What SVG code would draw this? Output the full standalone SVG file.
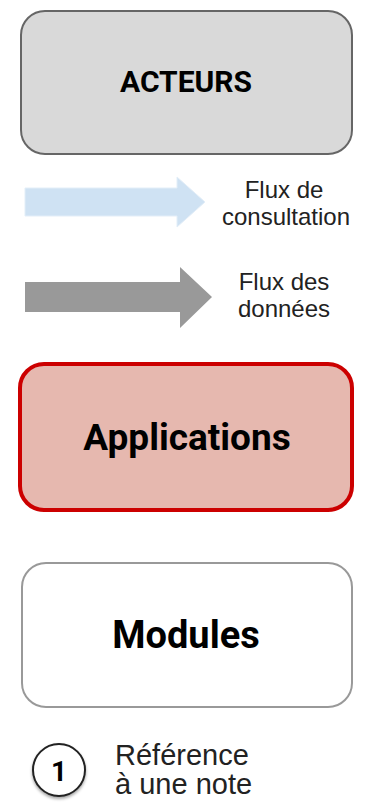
<svg xmlns="http://www.w3.org/2000/svg" width="392" height="802" viewBox="0 0 392 802">
<defs>
<style>
.box{stroke-width:2}
.lbl{font-family:Roboto,"Liberation Sans",sans-serif;font-weight:bold;fill:#000;text-anchor:middle}
.txt{font-family:"Liberation Sans",Arial,sans-serif;fill:#222;font-size:24px}
.note{font-family:"Liberation Sans",Arial,sans-serif;fill:#222;font-size:29px}
</style>
<filter id="sh" x="-30%" y="-30%" width="160%" height="160%">
<feDropShadow dx="0" dy="2" stdDeviation="1.5" flood-color="#000" flood-opacity="0.35"/>
</filter>
</defs>
<rect width="392" height="802" fill="#fff"/>
<g id="acteurs">
<rect class="box" x="21" y="11" width="331" height="143" rx="24" fill="#d9d9d9" stroke="#666"/>
<text class="lbl" x="186" y="92" font-size="30">ACTEURS</text>
</g>
<g id="connectors">
<polygon id="flux-consultation" points="25,188 177,188 177,177 205,202 177,227 177,216 25,216" fill="#cfe2f3" stroke="#e3eef8" stroke-width="1"/>
<polygon id="flux-donnees" points="25,282 180,282 180,267 212,297 180,328 180,312 25,312" fill="#999"/>
</g>
<g id="legend-consultation">
<text class="txt" text-anchor="middle" x="284" y="198">Flux de</text>
<text class="txt" text-anchor="middle" x="286" y="225">consultation</text>
</g>
<g id="legend-donnees">
<text class="txt" text-anchor="middle" x="284" y="290">Flux des</text>
<text class="txt" text-anchor="middle" x="284" y="317">données</text>
</g>
<g id="applications">
<rect x="20" y="364" width="332" height="146" rx="24" fill="#e6b8af" stroke="#cc0000" stroke-width="4"/>
<text class="lbl" x="187" y="450" font-size="37">Applications</text>
</g>
<g id="modules">
<rect x="22" y="563" width="330" height="144" rx="24" fill="#fff" stroke="#999" stroke-width="2"/>
<text class="lbl" x="186" y="648" font-size="38">Modules</text>
</g>
<g id="note">
<circle cx="59" cy="770" r="26" fill="#fff" stroke="#222" stroke-width="2" filter="url(#sh)"/>
<text class="lbl" x="59" y="781" font-size="28">1</text>
<text class="note" x="115" y="765">Référence</text>
<text class="note" x="115" y="794">à une note</text>
</g>
</svg>
